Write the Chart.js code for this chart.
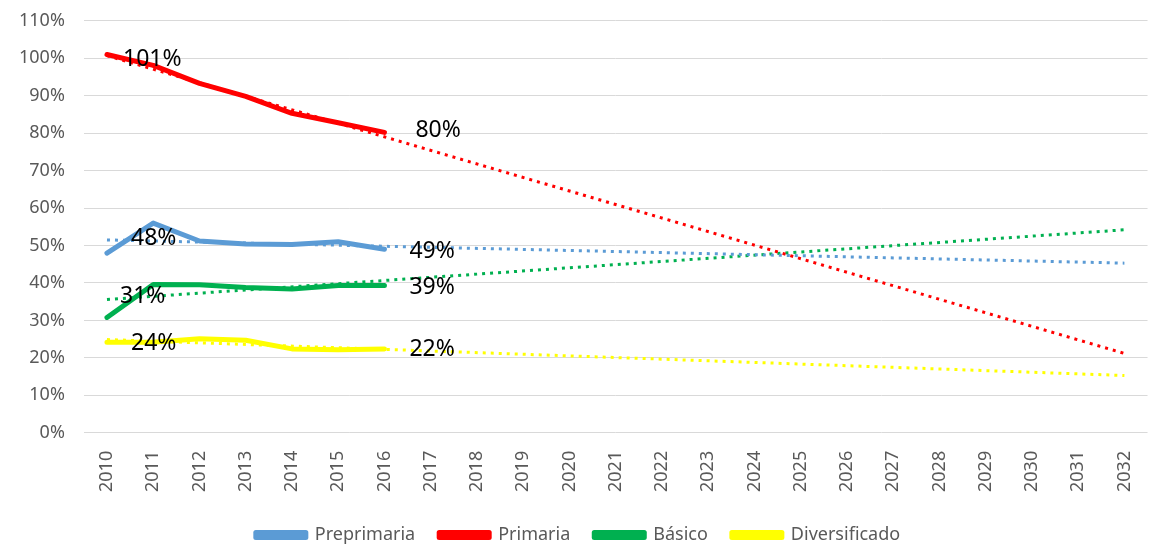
<!DOCTYPE html>
<html>
<head>
<meta charset="utf-8">
<script src="https://cdn.jsdelivr.net/npm/chart.js@4/dist/chart.umd.min.js"></script>
<style>
  html, body { margin: 0; padding: 0; background: #fff; }
  #wrap { width: 1156px; height: 545px; }
</style>
</head>
<body>
<div id="wrap"><canvas id="chart" width="1156" height="545"></canvas></div>
<script>
// DATA
const years = ['2010','2011','2012','2013','2014','2015','2016','2017','2018','2019','2020',
  '2021','2022','2023','2024','2025','2026','2027','2028','2029','2030','2031','2032'];

const preprimaria   = [48, 56, 51.2, 50.4, 50.3, 51, 49];
const primaria      = [101, 98.1, 93.3, 89.8, 85.3, 82.8, 80.2];
const basico        = [30.8, 39.6, 39.5, 38.8, 38.4, 39.3, 39.3];
const diversificado = [24.2, 24.2, 25.1, 24.7, 22.4, 22.2, 22.4];

// trend lines: value read at 2010 and at 2032
const trendPreprimaria   = [51.5, 45.3];
const trendPrimaria      = [100.7, 21.2];
const trendBasico        = [35.6, 54.2];
const trendDiversificado = [24.9, 15.3];

const yTicks = [0, 10, 20, 30, 40, 50, 60, 70, 80, 90, 100, 110];
const labelIdx = [0, 6];

const FONT = '"Noto Sans", sans-serif';

// label nudges [first, last] in px, per series
const labelShift = {
  'Preprimaria':   [[24, -15], [25, 2]],
  'Primaria':      [[16, 5], [31, -2]],
  'Básico':        [[13, -21], [25, 2]],
  'Diversificado': [[24, 1], [25, 1]]
};

function trendData(pair) {
  const d = years.map(() => null);
  d[0] = pair[0];
  d[years.length - 1] = pair[1];
  return d;
}

function mainSet(label, data, color) {
  return {
    label: label, data: data, borderColor: color, backgroundColor: color,
    borderWidth: 5, pointRadius: 0, tension: 0, showLabels: true,
    borderCapStyle: 'round', borderJoinStyle: 'round', order: 1
  };
}
function trendSet(label, pair, color) {
  return {
    label: label, data: trendData(pair), borderColor: color, backgroundColor: color,
    borderWidth: 3, borderDash: [3, 5], pointRadius: 0, spanGaps: true, isTrend: true, order: 2
  };
}

// DATA LABELS
const valueLabels = {
  id: 'valueLabels',
  afterDatasetsDraw(chart) {
    const ctx = chart.ctx;
    ctx.save();
    ctx.font = '23px ' + FONT;
    ctx.fillStyle = '#000';
    ctx.textAlign = 'left';
    ctx.textBaseline = 'middle';
    chart.data.datasets.forEach((ds, i) => {
      if (!ds.showLabels) return;
      const meta = chart.getDatasetMeta(i);
      labelIdx.forEach((j, k) => {
        const pt = meta.data[j];
        if (!pt) return;
        const s = labelShift[ds.label][k];
        ctx.fillText(Math.round(ds.data[j]) + '%', pt.x + s[0], pt.y + s[1]);
      });
    });
    ctx.restore();
  }
};

new Chart(document.getElementById('chart'), {
  type: 'line',
  data: {
    labels: years,
    datasets: [
      mainSet('Preprimaria', preprimaria, '#5b9bd5'),
      mainSet('Primaria', primaria, '#ff0000'),
      mainSet('Básico', basico, '#00b050'),
      mainSet('Diversificado', diversificado, '#ffff00'),
      trendSet('Tendencia Preprimaria', trendPreprimaria, '#5b9bd5'),
      trendSet('Tendencia Primaria', trendPrimaria, '#ff0000'),
      trendSet('Tendencia Básico', trendBasico, '#00b050'),
      trendSet('Tendencia Diversificado', trendDiversificado, '#ffff00')
    ]
  },
  options: {
    responsive: false,
    animation: false,
    layout: { padding: { left: 0, right: 0, top: 0, bottom: -9 } },
    plugins: {
      legend: {
        position: 'bottom',
        labels: {
          filter: item => !item.text.startsWith('Tendencia'),
          boxWidth: 50, boxHeight: 5, padding: 24,
          color: '#595959', font: { family: FONT, size: 18 }
        }
      },
      tooltip: { enabled: false }
    },
    scales: {
      x: {
        offset: true,
        grid: { display: false },
        border: { display: false },
        ticks: {
          minRotation: 90, maxRotation: 90, padding: 10,
          color: '#595959', font: { family: FONT, size: 18 }
        }
      },
      y: {
        min: 0, max: 110,
        afterBuildTicks: axis => { axis.ticks = yTicks.map(v => ({ value: v })); },
        grid: { color: '#d9d9d9', lineWidth: 1, drawTicks: false },
        border: { display: false },
        ticks: {
          padding: 19, color: '#595959', font: { family: FONT, size: 18, lineHeight: 0.2 },
          callback: v => v + '%'
        }
      }
    }
  },
  plugins: [valueLabels]
});
</script>
</body>
</html>
